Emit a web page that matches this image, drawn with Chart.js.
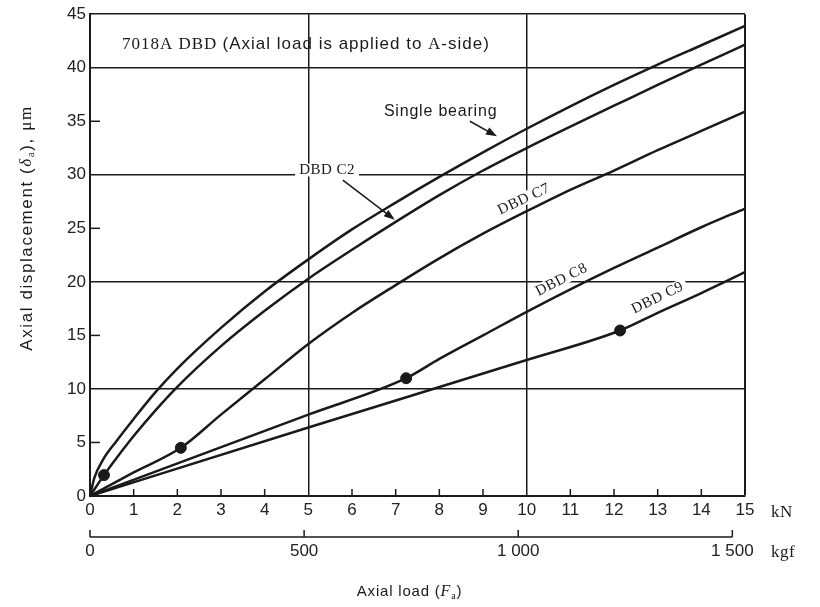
<!DOCTYPE html>
<html>
<head>
<meta charset="utf-8">
<script src="https://cdn.jsdelivr.net/npm/chart.js@4.4.0/dist/chart.umd.min.js"></script>
<style>
  html, body { margin: 0; padding: 0; background: #fff; }
  #wrap { width: 820px; height: 607px; }
</style>
</head>
<body>
<div id="wrap"><canvas id="axialChart" width="820" height="607"></canvas></div>
<script>
// axial load in kN vs axial displacement in um
const singleLoad = [0, 0.1, 0.3, 0.6, 1, 1.5, 2, 3, 4, 5, 6, 7, 8, 9, 10, 11, 12, 13, 14, 15];
const singleDisp = [0, 1.7, 3.4, 5.1, 7.2, 9.7, 11.9, 15.7, 19.1, 22.1, 24.9, 27.4, 29.8, 32.1, 34.3, 36.4, 38.4, 40.3, 42.1, 43.9];
const c2Load = [0, 0.32, 0.6, 1, 1.5, 2, 3, 4, 5, 6, 7, 8, 9, 10, 11, 12, 13, 14, 15];
const c2Disp = [0, 1.95, 3.5, 5.6, 8.0, 10.2, 14.0, 17.3, 20.3, 23.0, 25.6, 28.1, 30.4, 32.5, 34.5, 36.45, 38.4, 40.3, 42.15];
const c7Load = [0, 1, 2.08, 3, 4, 5, 6, 7, 8, 9, 10, 11, 12, 13, 14, 15];
const c7Disp = [0, 2.2, 4.5, 7.6, 10.9, 14.2, 17.1, 19.7, 22.2, 24.5, 26.6, 28.6, 30.4, 32.3, 34.1, 35.9];
const c8Load = [0, 5, 7.24, 8, 9, 10, 11, 12, 13, 14, 15];
const c8Disp = [0, 7.6, 11, 12.8, 15.0, 17.2, 19.3, 21.3, 23.2, 25.1, 26.85];
const c9Load = [0, 5, 10, 12.14, 13, 14, 15];
const c9Disp = [0, 6.4, 12.7, 15.46, 17.1, 18.95, 20.9];

// preload points (dots)
const dotLoad = [0.32, 2.08, 7.24, 12.14];
const dotDisp = [1.95, 4.5, 11, 15.46];

// ticks
const loadMax = 15;
const dispMax = 45;
const kgfTicks = [0, 500, 1000, 1500];
const kgfLabels = ["0", "500", "1 000", "1 500"];
const kgfPerKN = 1000 / 9.80665;

const ink = "#1a1a1a";
const sansFont = '"Liberation Sans", Arial, sans-serif';
const serifFont = '"Liberation Serif", "Times New Roman", serif';

function pts(xs, ys) {
  return xs.map((x, i) => ({ x: x, y: ys[i] }));
}

function curve(label, xs, ys) {
  return {
    label: label,
    data: pts(xs, ys),
    borderColor: ink,
    borderWidth: 2.5,
    pointRadius: 0,
    fill: false,
    cubicInterpolationMode: "monotone",
  };
}

// text made of several runs: [text, font, dy]
function drawRuns(ctx, runs, x, y, align) {
  let total = 0;
  runs.forEach((r) => {
    ctx.font = r[1];
    total += ctx.measureText(r[0]).width;
  });
  let cx = align === "center" ? x - total / 2 : x;
  ctx.textAlign = "left";
  ctx.textBaseline = "middle";
  runs.forEach((r) => {
    ctx.font = r[1];
    ctx.fillText(r[0], cx, y + (r[2] || 0));
    cx += ctx.measureText(r[0]).width;
  });
  return total;
}

function arrow(ctx, x1, y1, x2, y2) {
  const a = Math.atan2(y2 - y1, x2 - x1);
  const c = Math.cos(a), s = Math.sin(a);
  ctx.beginPath();
  ctx.moveTo(x1, y1);
  ctx.lineTo(x2 - 6 * c, y2 - 6 * s);
  ctx.stroke();
  ctx.beginPath();
  ctx.moveTo(x2, y2);
  ctx.lineTo(x2 - 11 * c + 4 * s, y2 - 11 * s - 4 * c);
  ctx.lineTo(x2 - 11 * c - 4 * s, y2 - 11 * s + 4 * c);
  ctx.closePath();
  ctx.fill();
}

// labels sitting on the curves, in data units (kN, um), angle in degrees
const curveLabels = [
  { t: "DBD C2", x: 5.43, y: 30.4, rot: 0 },
  { t: "DBD C7", x: 9.94, y: 27.7, rot: -25 },
  { t: "DBD C8", x: 10.8, y: 20.2, rot: -27 },
  { t: "DBD C9", x: 13.0, y: 18.5, rot: -26 },
];

const decorPlugin = {
  id: "decor",
  beforeDatasetsDraw(chart) {
    const ctx = chart.ctx;
    const xs = chart.scales.x, ys = chart.scales.y;
    const area = chart.chartArea;
    ctx.save();
    ctx.strokeStyle = ink;
    ctx.lineWidth = 1.5;
    // short inner ticks
    for (let v = 1; v < loadMax; v++) {
      if (v % 5 === 0) continue;
      const px = xs.getPixelForValue(v);
      ctx.beginPath();
      ctx.moveTo(px, area.bottom);
      ctx.lineTo(px, area.bottom - 7);
      ctx.stroke();
    }
    for (let v = 5; v < dispMax; v += 10) {
      const py = ys.getPixelForValue(v);
      ctx.beginPath();
      ctx.moveTo(area.left, py);
      ctx.lineTo(area.left + 10, py);
      ctx.stroke();
    }
    // curve labels with white gap behind them
    ctx.font = "15px " + serifFont;
    ctx.letterSpacing = "0.5px";
    curveLabels.forEach((l) => {
      const w = ctx.measureText(l.t).width;
      ctx.save();
      ctx.translate(xs.getPixelForValue(l.x), ys.getPixelForValue(l.y));
      ctx.rotate((l.rot * Math.PI) / 180);
      ctx.fillStyle = "#fff";
      ctx.fillRect(-w / 2 - 4, -7, w + 8, 13);
      ctx.fillStyle = ink;
      ctx.textAlign = "center";
      ctx.textBaseline = "middle";
      ctx.fillText(l.t, 0, 0);
      ctx.restore();
    });
    ctx.restore();
  },
  afterDraw(chart) {
    const ctx = chart.ctx;
    const xs = chart.scales.x, ys = chart.scales.y, x2 = chart.scales.x2;
    const area = chart.chartArea;
    ctx.save();
    ctx.fillStyle = ink;
    ctx.strokeStyle = ink;
    ctx.lineWidth = 1.5;

    // kgf scale bracket
    const by = x2.top + 9;
    ctx.beginPath();
    ctx.moveTo(x2.getPixelForValue(0), by);
    ctx.lineTo(x2.getPixelForValue(kgfTicks[kgfTicks.length - 1]), by);
    ctx.stroke();
    kgfTicks.forEach((v) => {
      const px = x2.getPixelForValue(v);
      ctx.beginPath();
      ctx.moveTo(px, by);
      ctx.lineTo(px, by - 7);
      ctx.stroke();
    });

    // units
    ctx.letterSpacing = "0.5px";
    drawRuns(ctx, [["kN", "17px " + serifFont]], area.right + 26, area.bottom + 17, "left");
    drawRuns(ctx, [["kgf", "17px " + serifFont]], area.right + 26, x2.top + 25, "left");

    // axis titles
    ctx.letterSpacing = "0.8px";
    drawRuns(ctx, [
      ["Axial load (", "15px " + sansFont],
      ["F", "italic 16px " + serifFont],
      ["a", "10px " + serifFont, 4],
      [")", "15px " + sansFont],
    ], (area.left + area.right) / 2 - 8, 592, "center");

    ctx.save();
    ctx.translate(27, 228);
    ctx.rotate(-Math.PI / 2);
    ctx.letterSpacing = "1.6px";
    drawRuns(ctx, [
      ["Axial displacement (", "17px " + sansFont],
      ["\u03b4", "italic 17px " + serifFont],
      ["a", "11px " + serifFont, 4],
      ["), ", "17px " + sansFont],
      ["\u03bcm", "17px " + serifFont],
    ], 0, 0, "center");
    ctx.restore();

    // chart title
    ctx.letterSpacing = "1px";
    drawRuns(ctx, [
      ["7018A DBD ", "17px " + serifFont],
      ["(Axial load is applied to ", "17px " + sansFont],
      ["A", "17px " + serifFont],
      ["-side)", "17px " + sansFont],
    ], xs.getPixelForValue(0.73), ys.getPixelForValue(42.2), "left");

    // single bearing note + arrows
    ctx.letterSpacing = "0.8px";
    drawRuns(ctx, [["Single bearing", "16px " + sansFont]],
      xs.getPixelForValue(6.73), ys.getPixelForValue(35.9), "left");
    ctx.lineWidth = 1.5;
    arrow(ctx, xs.getPixelForValue(8.7), ys.getPixelForValue(35.0),
      xs.getPixelForValue(9.32), ys.getPixelForValue(33.6));
    arrow(ctx, xs.getPixelForValue(5.79), ys.getPixelForValue(29.5),
      xs.getPixelForValue(6.98), ys.getPixelForValue(25.8));
    ctx.restore();
  },
};

const tickFont = { family: sansFont, size: 17 };

new Chart(document.getElementById("axialChart"), {
  type: "line",
  data: {
    datasets: [
      curve("Single bearing", singleLoad, singleDisp),
      curve("DBD C2", c2Load, c2Disp),
      curve("DBD C7", c7Load, c7Disp),
      curve("DBD C8", c8Load, c8Disp),
      curve("DBD C9", c9Load, c9Disp),
      {
        type: "scatter",
        label: "Preload",
        data: pts(dotLoad, dotDisp),
        pointRadius: 5.5,
        pointBackgroundColor: ink,
        pointBorderColor: ink,
        showLine: false,
      },
    ],
  },
  options: {
    responsive: false,
    animation: false,
    layout: { padding: { top: 10, right: 75, left: 0, bottom: 0 } },
    plugins: { legend: { display: false }, tooltip: { enabled: false } },
    scales: {
      x: {
        type: "linear",
        position: "bottom",
        weight: 0,
        min: 0,
        max: loadMax,
        ticks: { stepSize: 1, padding: 4, color: "#222", font: tickFont },
        grid: {
          drawTicks: false,
          color: (c) => (c.tick && c.tick.value % 5 === 0 ? ink : "rgba(0,0,0,0)"),
          lineWidth: (c) => (c.tick && c.tick.value === loadMax ? 2 : 1.5),
        },
        border: { display: true, color: ink, width: 2 },
        afterFit: (s) => { s.height = 32; },
      },
      x2: {
        type: "linear",
        position: "bottom",
        weight: 1,
        min: 0,
        max: loadMax * kgfPerKN,
        afterBuildTicks: (s) => { s.ticks = kgfTicks.map((v) => ({ value: v })); },
        ticks: {
          autoSkip: false,
          padding: 13,
          color: "#222",
          font: tickFont,
          callback: (v) => kgfLabels[kgfTicks.indexOf(v)],
        },
        grid: { display: false, drawTicks: false },
        border: { display: false },
        afterFit: (s) => { s.height = 79; },
      },
      y: {
        min: 0,
        max: dispMax,
        ticks: { stepSize: 5, padding: 4, color: "#222", font: tickFont },
        grid: {
          drawTicks: false,
          color: (c) => (c.tick && (c.tick.value % 10 === 0 || c.tick.value === dispMax) ? ink : "rgba(0,0,0,0)"),
          lineWidth: 1.5,
        },
        border: { display: true, color: ink, width: 2 },
        afterFit: (s) => { s.width = 90; },
      },
    },
  },
  plugins: [decorPlugin],
});
</script>
</body>
</html>
